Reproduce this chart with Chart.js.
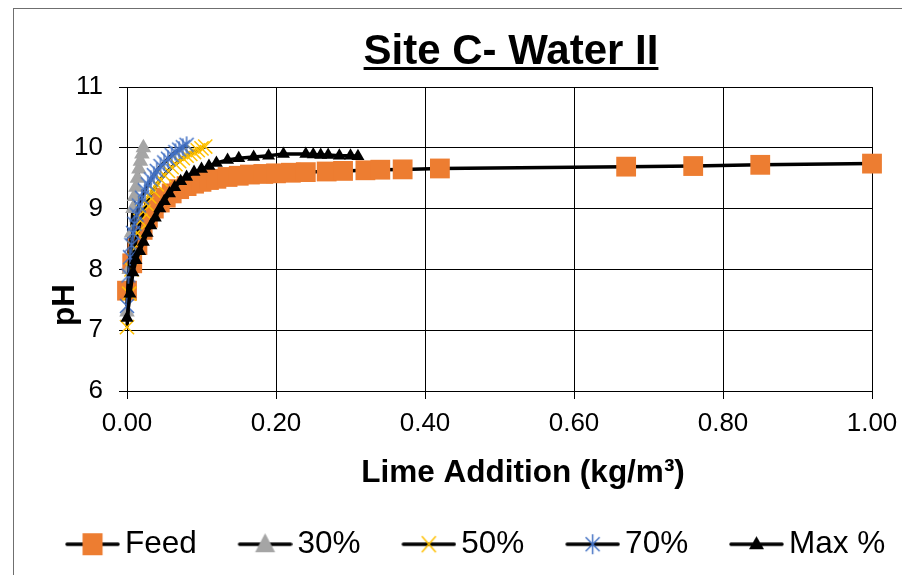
<!DOCTYPE html>
<html><head><meta charset="utf-8">
<script src="https://cdn.jsdelivr.net/npm/chart.js@4.4.0/dist/chart.umd.min.js"></script>
<style>html,body{margin:0;padding:0;background:#fff;}#wrap{width:902px;height:575px;position:relative;}</style>
</head><body><div id="wrap"><canvas id="c" width="902" height="575"></canvas></div>
<script>
const chartTitle = 'Site C- Water II';
const xAxisTitle = 'Lime Addition (kg/m³)';
const yAxisTitle = 'pH';
const seriesNames = ['Feed', '30%', '50%', '70%', 'Max %'];
const xTickValues = [0, 0.2, 0.4, 0.6, 0.8, 1.0];
const yTickValues = [6, 7, 8, 9, 10, 11];

const feedX  = [0, 0.007, 0.014, 0.021, 0.028, 0.036, 0.044, 0.052, 0.06, 0.07, 0.08, 0.09, 0.1, 0.11, 0.12, 0.135, 0.15, 0.165, 0.183, 0.2, 0.22, 0.24, 0.268, 0.29, 0.32, 0.34, 0.37, 0.42, 0.67, 0.76, 0.85, 1.0];
const feedPH = [7.65, 8.1, 8.4, 8.65, 8.85, 9.0, 9.1, 9.18, 9.25, 9.32, 9.37, 9.41, 9.44, 9.47, 9.49, 9.52, 9.54, 9.56, 9.57, 9.58, 9.59, 9.6, 9.61, 9.62, 9.63, 9.64, 9.645, 9.66, 9.69, 9.7, 9.72, 9.74];

const p30X  = [0, 0.003, 0.006, 0.008, 0.01, 0.012, 0.014, 0.016, 0.018, 0.02, 0.022];
const p30PH = [7.3, 8.0, 8.6, 9.0, 9.2, 9.35, 9.5, 9.65, 9.78, 9.9, 10.0];

const p50X  = [0, 0.003, 0.006, 0.01, 0.014, 0.018, 0.022, 0.026, 0.03, 0.035, 0.04, 0.045, 0.05, 0.055, 0.06, 0.065, 0.07, 0.075, 0.08, 0.085, 0.09, 0.095, 0.1, 0.105];
const p50PH = [7.05, 7.6, 8.0, 8.35, 8.6, 8.8, 8.95, 9.08, 9.2, 9.3, 9.4, 9.48, 9.55, 9.62, 9.68, 9.73, 9.78, 9.83, 9.87, 9.9, 9.93, 9.96, 9.99, 10.02];

const p70X  = [0, 0.002, 0.004, 0.006, 0.008, 0.01, 0.013, 0.016, 0.02, 0.024, 0.028, 0.032, 0.036, 0.04, 0.045, 0.05, 0.055, 0.06, 0.065, 0.07, 0.075, 0.08];
const p70PH = [7.4, 7.9, 8.2, 8.4, 8.6, 8.75, 8.9, 9.05, 9.18, 9.3, 9.4, 9.48, 9.55, 9.62, 9.7, 9.76, 9.82, 9.88, 9.93, 9.97, 10.01, 10.05];

const maxX  = [0, 0.004, 0.008, 0.012, 0.017, 0.022, 0.027, 0.032, 0.038, 0.044, 0.05, 0.057, 0.064, 0.072, 0.08, 0.09, 0.1, 0.11, 0.12, 0.135, 0.15, 0.17, 0.19, 0.21, 0.24, 0.25, 0.26, 0.27, 0.285, 0.3, 0.31];
const maxPH = [7.2, 7.6, 7.95, 8.15, 8.3, 8.45, 8.6, 8.72, 8.85, 9.0, 9.12, 9.25, 9.35, 9.45, 9.52, 9.6, 9.65, 9.7, 9.75, 9.8, 9.83, 9.85, 9.87, 9.9, 9.9, 9.89, 9.88, 9.88, 9.87, 9.87, 9.86];

const FONT = "'Liberation Sans', Arial, sans-serif";
const ORANGE = '#ED7D31', GRAY = '#A5A5A5', YELLOW = '#FFC000', BLUE = '#4472C4', BLACK = '#000000';

function pts(xs, ys) { return xs.map((x, i) => ({ x: x, y: ys[i] })); }

function asteriskImage(size, color) {
  const c = document.createElement('canvas');
  c.width = size; c.height = size;
  const g = c.getContext('2d');
  const h = size / 2, a = h - 2;
  g.strokeStyle = color; g.lineWidth = 1.5;
  g.beginPath();
  g.moveTo(h - a, h - a); g.lineTo(h + a, h + a);
  g.moveTo(h + a, h - a); g.lineTo(h - a, h + a);
  g.moveTo(h, 0.5); g.lineTo(h, size - 0.5);
  g.stroke();
  return c;
}

function legendIcon(drawMarker) {
  const W = 94, H = 28;
  const c = document.createElement('canvas');
  c.width = W; c.height = H;
  const g = c.getContext('2d');
  g.strokeStyle = BLACK; g.lineWidth = 3.5; g.lineCap = 'round';
  g.beginPath(); g.moveTo(41, H / 2); g.lineTo(W - 2, H / 2); g.stroke();
  drawMarker(g, 66.5, H / 2);
  return c;
}

const legendIcons = [
  legendIcon((g, x, y) => { g.fillStyle = ORANGE; g.fillRect(x - 10, y - 11, 20, 22); }),
  legendIcon((g, x, y) => { g.fillStyle = GRAY; g.beginPath(); g.moveTo(x, y - 11); g.lineTo(x + 10, y + 8); g.lineTo(x - 10, y + 8); g.closePath(); g.fill(); }),
  legendIcon((g, x, y) => { g.strokeStyle = YELLOW; g.lineWidth = 1.5; g.lineCap = 'butt'; g.beginPath(); g.moveTo(x - 7, y - 8); g.lineTo(x + 7, y + 8); g.moveTo(x + 7, y - 8); g.lineTo(x - 7, y + 8); g.stroke(); }),
  legendIcon((g, x, y) => { g.strokeStyle = BLUE; g.lineWidth = 1.5; g.lineCap = 'butt'; g.beginPath(); g.moveTo(x - 7, y - 7); g.lineTo(x + 7, y + 7); g.moveTo(x + 7, y - 7); g.lineTo(x - 7, y + 7); g.moveTo(x, y - 10); g.lineTo(x, y + 10); g.stroke(); }),
  legendIcon((g, x, y) => { g.fillStyle = BLACK; g.beginPath(); g.moveTo(x, y - 8); g.lineTo(x + 7.5, y + 5); g.lineTo(x - 7.5, y + 5); g.closePath(); g.fill(); })
];

const decor = {
  id: 'decor',
  beforeDraw(chart) {
    const ctx = chart.ctx;
    ctx.save();
    ctx.fillStyle = '#fff'; ctx.fillRect(0, 0, chart.width, chart.height);
    ctx.strokeStyle = '#6f6f6f'; ctx.lineWidth = 1;
    ctx.strokeRect(13.5, 8.5, 1200, 1200);
    ctx.restore();
  },
  afterDraw(chart) {
    const ctx = chart.ctx;
    ctx.save();
    ctx.fillStyle = '#000';
    ctx.textAlign = 'center'; ctx.textBaseline = 'alphabetic';
    ctx.font = 'bold 42px ' + FONT;
    const tx = 511, ty = 64;
    ctx.fillText(chartTitle, tx, ty);
    const tw = ctx.measureText(chartTitle).width;
    ctx.fillRect(tx - tw / 2, ty + 3, tw, 3);
    ctx.font = 'bold 31.5px ' + FONT;
    ctx.fillText(xAxisTitle, 523, 482);
    ctx.translate(74, 305); ctx.rotate(-Math.PI / 2);
    ctx.fillText(yAxisTitle, 0, 0);
    ctx.restore();
  }
};

Chart.defaults.font.family = FONT;
Chart.defaults.color = '#000';

const common = { showLine: true, borderColor: BLACK, borderWidth: 3.5, tension: 0, clip: false, xAxisID: 'x', yAxisID: 'y' };

new Chart(document.getElementById('c'), {
  type: 'scatter',
  data: {
    datasets: [
      Object.assign({ label: seriesNames[0], data: pts(feedX, feedPH), pointStyle: 'rect', pointRadius: 14, pointBackgroundColor: ORANGE, pointBorderColor: ORANGE, pointBorderWidth: 0, order: 5 }, common),
      Object.assign({ label: seriesNames[1], data: pts(p30X, p30PH), pointStyle: 'triangle', pointRadius: 9, pointBackgroundColor: GRAY, pointBorderColor: GRAY, pointBorderWidth: 0, order: 4 }, common),
      Object.assign({ label: seriesNames[2], data: pts(p50X, p50PH), pointStyle: 'crossRot', pointRadius: 10, pointBackgroundColor: YELLOW, pointBorderColor: YELLOW, pointBorderWidth: 1.5, order: 3 }, common),
      Object.assign({ label: seriesNames[3], data: pts(p70X, p70PH), pointStyle: asteriskImage(18, BLUE), pointRadius: 9, pointBackgroundColor: BLUE, pointBorderColor: BLUE, pointBorderWidth: 1.5, order: 2 }, common),
      Object.assign({ label: seriesNames[4], data: pts(maxX, maxPH), pointStyle: 'triangle', pointRadius: 7.5, pointBackgroundColor: BLACK, pointBorderColor: BLACK, pointBorderWidth: 0, order: 1 }, common)
    ]
  },
  options: {
    responsive: false,
    animation: false,
    events: [],
    layout: { padding: { left: 20, right: 0, top: 87, bottom: 5 } },
    scales: {
      x: {
        type: 'linear', position: 'bottom', min: xTickValues[0], max: xTickValues[xTickValues.length - 1],
        afterBuildTicks: (s) => { s.ticks = xTickValues.map(v => ({ value: v })); },
        afterFit: (s) => { s.height = 124.9; },
        ticks: { font: { size: 26, lineHeight: 1.6 }, padding: 4, color: '#000', callback: (v) => Number(v).toFixed(2) },
        grid: { color: '#000', lineWidth: 1, tickLength: 8, drawTicks: true },
        border: { color: '#000', width: 1 }
      },
      y: {
        type: 'linear', position: 'left', min: yTickValues[0], max: yTickValues[yTickValues.length - 1],
        afterBuildTicks: (s) => { s.ticks = yTickValues.map(v => ({ value: v })); },
        afterFit: (s) => { s.width = 107; },
        ticks: { font: { size: 26 }, padding: 16, color: '#000', callback: (v) => String(v) },
        grid: { color: '#000', lineWidth: 1, tickLength: 8, drawTicks: true },
        border: { color: '#000', width: 1 }
      },
      yRightSpace: {
        type: 'linear', position: 'right', display: true,
        afterFit: (s) => { s.width = 30; },
        ticks: { display: false },
        grid: { display: false, drawTicks: false },
        border: { display: false }
      }
    },
    plugins: {
      title: { display: false },
      tooltip: { enabled: false },
      legend: {
        display: true, position: 'bottom',
        labels: {
          usePointStyle: true, pointStyleWidth: 72.4, padding: 12.6, color: '#000',
          font: { size: 31.5 },
          generateLabels: (chart) => chart.data.datasets.map((ds, i) => ({
            text: ds.label, fillStyle: BLACK, strokeStyle: BLACK, lineWidth: 0,
            pointStyle: legendIcons[i], hidden: false, datasetIndex: i, fontColor: '#000'
          }))
        }
      }
    }
  },
  plugins: [decor]
});
</script>
</body></html>
